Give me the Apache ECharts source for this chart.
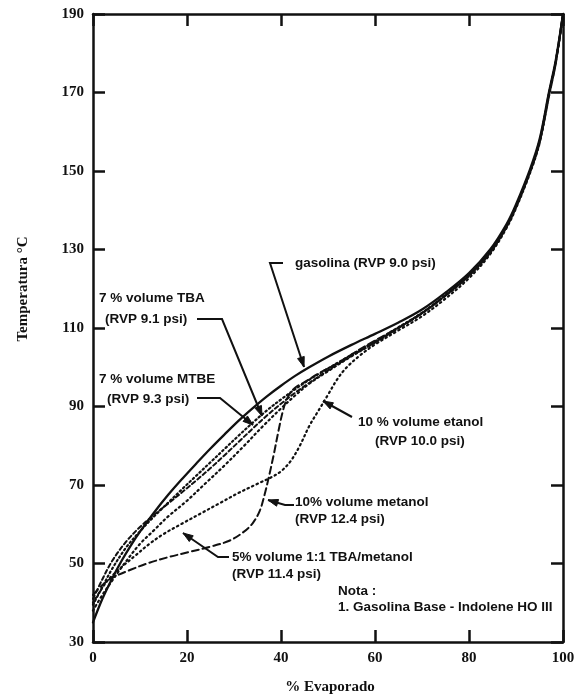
<!DOCTYPE html>
<html>
<head>
<meta charset="utf-8">
<script src="https://cdn.jsdelivr.net/npm/echarts@6/dist/echarts.min.js"></script>
<style>
  html, body { margin: 0; padding: 0; background: #fff; }
  #chart { width: 579px; height: 698px; }
</style>
</head>
<body>
<div id="chart"></div>
<script>
// Distillation curves: % evaporated vs temperature (°C)
const gasolina = [[0,35],[2,41],[4,46],[6,50.5],[8,54.5],[10,58.1],[13,63],[16,67.5],[19,71.6],[22,75.5],[25,79.3],[28,82.9],[31,86.4],[34,89.6],[37,92.6],[40,95.3],[43,97.8],[46,100],[50,102.7],[55,105.7],[60,108.5],[65,111.4],[70,114.7],[75,119],[80,124],[84.5,130],[88,136.5],[90,141.5],[93,150.5],[95,158],[97,170],[98.5,178.5],[100,190]];

const tba7 = [[0,39.5],[2,44],[4,48.5],[7,54],[10,58.2],[13,62],[16,65.5],[19,69],[22,72.4],[25,75.8],[28,79.2],[31,82.6],[34,85.9],[37,89],[40,91.8],[43,94.4],[46,96.8],[50,99.7],[55,103.2],[60,106.6],[65,110.2],[70,113.9],[75,118.4],[80,123.5],[84.5,129.5],[88,136],[90,141],[93,150],[95,157.6],[97,169.6],[98.5,178.2],[100,190]];

const mtbe7 = [[0,41],[2,46],[4,50.5],[7,55.5],[10,59.3],[13,62.4],[16,65.3],[19,68.2],[22,71.2],[25,74.3],[28,77.6],[31,81],[34,84.4],[37,87.7],[40,90.7],[43,93.5],[46,96],[50,99.2],[55,102.9],[60,106.3],[65,110],[70,113.8],[75,118.3],[80,123.4],[84.5,129.4],[88,136],[90,141],[93,150],[95,157.5],[97,169.5],[98.5,178.1],[100,190]];

const etanol10 = [[0,40],[3,45.5],[6,49],[9,52],[12,55],[15,57.5],[19,60.2],[23,62.8],[27,65.4],[31,68],[35,70.3],[38,72],[40,73.5],[42,76],[44,80],[46,85],[48,89],[50,93],[52,97],[54,100],[57,103.2],[60,105.8],[65,109.4],[70,113],[75,117.5],[80,122.7],[84.5,128.8],[88,135.5],[90,140.5],[93,149.5],[95,157],[97,169],[98.5,177.8],[100,190]];

const metanol10 = [[0,42],[2,44.5],[4,46.3],[8,48.4],[12,50.2],[16,51.6],[20,52.8],[25,54.3],[29,55.8],[32,58],[34,60.3],[35.5,63.5],[36.5,67.5],[37.5,72.5],[38.5,78],[39.5,84],[40.5,89.3],[41.5,92.5],[43,94.8],[45,96.2],[48,98.4],[52,101],[56,104],[60,106.8],[65,110.1],[70,113.8],[75,118.3],[80,123.4],[84.5,129.3],[88,135.9],[90,140.9],[93,149.9],[95,157.4],[97,169.4],[98.5,178],[100,190]];

const tbaMetanol5 = [[0,38],[2,42],[4,45.5],[7,50.5],[10,55],[13,58.5],[16,62],[20,66],[24,70.5],[28,75],[32,79.8],[36,84.8],[40,89.5],[43,92.8],[46,95.8],[50,99],[55,102.8],[60,106.3],[65,110],[70,113.7],[75,118.2],[80,123.3],[84.5,129.2],[88,135.8],[90,140.8],[93,149.8],[95,157.3],[97,169.3],[98.5,178],[100,190]];

const xRange = { min: 0, max: 100, step: 20 };
const yRange = { min: 30, max: 190, step: 20 };

const INK = '#111';
const serifBold = { fontFamily: '"Liberation Serif", "DejaVu Serif", serif', fontWeight: 'bold', fontSize: 15, color: INK };
const labelFont = 'bold 13.5px "Liberation Sans", Arial, sans-serif';

function axisBase(showLabels) {
  return {
    type: 'value',
    axisLine: { show: true, onZero: false, lineStyle: { color: INK, width: 2.5 } },
    axisTick: { show: true, inside: true, length: 12, lineStyle: { color: INK, width: 2.5 } },
    axisLabel: showLabels ? Object.assign({ margin: 9 }, serifBold) : { show: false },
    splitLine: { show: false }
  };
}

function curve(name, data, lineType, width) {
  return {
    name, type: 'line', data, smooth: 0.35, showSymbol: false, symbol: 'none',
    xAxisIndex: 0, yAxisIndex: 0, z: 3,
    lineStyle: { color: INK, width: width, type: lineType, cap: 'round' }
  };
}

// Callout texts (pixel layout)
const texts = [
  ['gasolina (RVP 9.0 psi)', 295, 263],
  ['7 % volume TBA', 99, 298],
  ['(RVP 9.1 psi)', 105, 319],
  ['7 % volume MTBE', 99, 379],
  ['(RVP 9.3 psi)', 107, 399],
  ['10 % volume etanol', 358, 422],
  ['(RVP 10.0 psi)', 375, 441],
  ['10% volume metanol', 295, 502],
  ['(RVP 12.4 psi)', 295, 519],
  ['5% volume 1:1 TBA/metanol', 232, 557],
  ['(RVP 11.4 psi)', 232, 574],
  ['Nota :', 338, 591],
  ['1. Gasolina Base - Indolene HO III', 338, 607]
];

// Leader lines ending in an arrowhead (pixel layout)
const leaders = [
  [[283,263],[270,263],[304,367]],
  [[197,319],[222,319],[262,416]],
  [[197,398],[220,398],[253,425]],
  [[352,417],[323,401]],
  [[294,505],[285,505],[268,500]],
  [[229,557],[218,557],[183,533]]
];

function arrowHead(p0, p1, len, half) {
  const dx = p1[0] - p0[0], dy = p1[1] - p0[1];
  const L = Math.hypot(dx, dy), ux = dx / L, uy = dy / L;
  const bx = p1[0] - ux * len, by = p1[1] - uy * len;
  return [[p1[0], p1[1]], [bx - uy * half, by + ux * half], [bx + uy * half, by - ux * half]];
}

const graphics = [];
texts.forEach(([t, x, y]) => {
  graphics.push({ type: 'text', x, y, z: 10,
    style: { text: t, font: labelFont, fill: INK, verticalAlign: 'middle', align: 'left' } });
});
leaders.forEach(pts => {
  const n = pts.length;
  graphics.push({ type: 'polyline', z: 10, shape: { points: pts },
    style: { stroke: INK, lineWidth: 2, fill: null } });
  graphics.push({ type: 'polygon', z: 10, shape: { points: arrowHead(pts[n - 2], pts[n - 1], 10, 3.5) },
    style: { fill: INK, stroke: INK, lineWidth: 1 } });
});
graphics.push({ type: 'text', x: 330, y: 687, z: 10,
  style: { text: '% Evaporado', font: 'bold 15px "Liberation Serif", serif', fill: INK, align: 'center', verticalAlign: 'middle' } });
graphics.push({ type: 'text', x: 23, y: 289, rotation: Math.PI / 2, z: 10,
  style: { text: 'Temperatura °C', font: 'bold 15px "Liberation Serif", serif', fill: INK, align: 'center', verticalAlign: 'middle' } });

const chart = echarts.init(document.getElementById('chart'), null, { renderer: 'canvas' });
chart.setOption({
  animation: false,
  backgroundColor: '#fff',
  grid: { left: 93, right: 16, top: 14, bottom: 56, containLabel: false },
  xAxis: [
    Object.assign(axisBase(true), { position: 'bottom', min: xRange.min, max: xRange.max, interval: xRange.step }),
    Object.assign(axisBase(false), { position: 'top', min: xRange.min, max: xRange.max, interval: xRange.step })
  ],
  yAxis: [
    Object.assign(axisBase(true), { position: 'left', min: yRange.min, max: yRange.max, interval: yRange.step }),
    Object.assign(axisBase(false), { position: 'right', min: yRange.min, max: yRange.max, interval: yRange.step })
  ],
  series: [
    curve('gasolina (RVP 9.0 psi)', gasolina, 'solid', 2.3),
    curve('7% volume TBA (RVP 9.1 psi)', tba7, [1.5, 3], 2.2),
    curve('7% volume MTBE (RVP 9.3 psi)', mtbe7, [4, 3], 2),
    curve('10% volume etanol (RVP 10.0 psi)', etanol10, [1.5, 3.5], 2.2),
    curve('10% volume metanol (RVP 12.4 psi)', metanol10, [7, 4], 2),
    curve('5% volume 1:1 TBA/metanol (RVP 11.4 psi)', tbaMetanol5, [1.5, 3.5], 2.2)
  ],
  graphic: graphics
});
</script>
</body>
</html>
